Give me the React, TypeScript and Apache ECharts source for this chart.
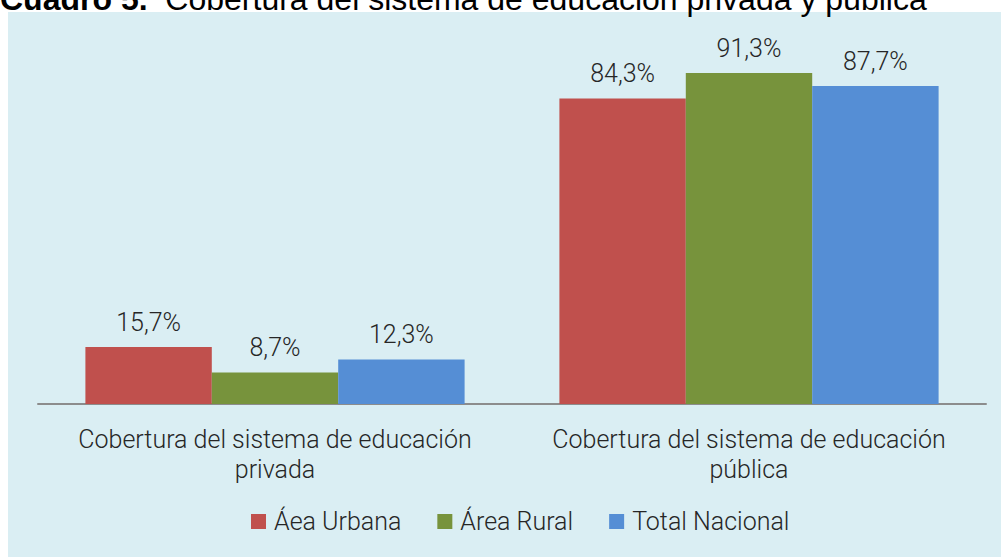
import React, { useEffect, useRef } from "react";
import * as echarts from "echarts";

const categories = [
  "Cobertura del sistema de educación privada",
  "Cobertura del sistema de educación pública",
];
const seriesNames = ["Áea Urbana", "Área Rural", "Total Nacional"];
const urbana = [15.7, 84.3];
const rural = [8.7, 91.3];
const nacional = [12.3, 87.7];
const colors = ["#C0504D", "#77933C", "#558ED5"];
const titleBold = "Cuadro 5.";
const titleRest = "Cobertura del sistema de educación privada y pública";

const FONT = "Roboto";

export default function App() {
  const ref = useRef<HTMLDivElement>(null);
  useEffect(() => {
    if (!ref.current) return;
    const chart = echarts.init(ref.current, undefined, { renderer: "svg" });
    const values = [urbana, rural, nacional];
    chart.setOption({
      animation: false,
      backgroundColor: "#FFFFFF",
      title: {
        left: 0,
        top: -17,
        padding: 0,
        text: `{b|${titleBold}}  ${titleRest}`,
        textStyle: {
          fontFamily: "Liberation Sans",
          fontSize: 32,
          fontWeight: "normal",
          color: "#000000",
          rich: {
            b: { fontFamily: "Liberation Sans", fontSize: 32, fontWeight: "bold", color: "#000000" },
          },
        },
      },
      graphic: [
        {
          type: "rect",
          z: -10,
          shape: { x: 8, y: 12, width: 993, height: 545 },
          style: { fill: "#DAEEF3" },
          silent: true,
        },
      ],
      grid: { left: 38, right: 15, top: 41.5, bottom: 153, containLabel: false },
      legend: {
        top: 509,
        left: 251,
        padding: 0,
        itemWidth: 15,
        itemHeight: 15,
        itemGap: 36,
        icon: "rect",
        textStyle: { fontFamily: FONT, fontWeight: 300, fontSize: 25, color: "#262626", padding: [0, 0, 0, 3] },
        data: seriesNames,
      },
      xAxis: {
        type: "category",
        data: categories,
        axisTick: { show: false },
        axisLine: { lineStyle: { color: "#8C8C8C", width: 2 } },
        axisLabel: {
          interval: 0,
          margin: 20,
          fontFamily: FONT,
          fontWeight: 300,
          fontSize: 25,
          lineHeight: 30,
          color: "#262626",
          formatter: (v: string) => v.replace(/ (\S+)$/, "\n$1"),
        },
      },
      yAxis: {
        type: "value",
        min: 0,
        max: 100,
        show: false,
        splitLine: { show: false },
      },
      series: seriesNames.map((name, i) => ({
        name,
        type: "bar",
        data: values[i],
        barGap: "0%",
        barCategoryGap: "20%",
        itemStyle: { color: colors[i] },
        label: {
          show: true,
          position: "top",
          distance: 12,
          fontFamily: FONT,
          fontWeight: 300,
          fontSize: 25,
          color: "#262626",
          formatter: (p: any) => p.value.toFixed(1).replace(".", ",") + "%",
        },
      })),
    });
    return () => chart.dispose();
  }, []);
  return (
    <div
      ref={ref}
      style={{ position: "absolute", left: 0, top: 0, width: 1001, height: 557 }}
    />
  );
}
